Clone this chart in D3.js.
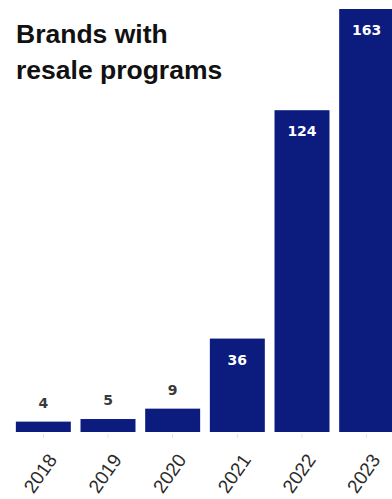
<!DOCTYPE html>
<html>
  <head>
    <script src="https://cdn.jsdelivr.net/npm/d3@7/dist/d3.min.js"></script>
    <style>
      body { margin: 0; background: #fff; }
    </style>
  </head>
  <body>
    <svg id="chart"></svg>
    <script>
      const years = ["2018", "2019", "2020", "2021", "2022", "2023"]
      const brands = [4, 5, 9, 36, 124, 163]
      const titleLines = ["Brands with", "resale programs"]

      const width = 392, height = 499
      const baseline = 432

      const svg = d3.select("#chart").attr("width", width).attr("height", height)

      var xScale = d3.scaleBand().domain(years).range([11, 399]).paddingInner(0.15).paddingOuter(0.075)
      var yScale = d3.scaleLinear().domain([0, 163]).range([baseline, 9])

      const data = years.map((y, i) => ({year: y, value: brands[i]}))

      svg.append("g").selectAll("rect")
        .data(data)
        .enter()
        .append("rect")
        .attr("fill", "#0c1c7e")
        .attr("x", d => xScale(d.year))
        .attr("width", xScale.bandwidth())
        .attr("y", d => yScale(d.value))
        .attr("height", d => baseline - yScale(d.value))

      // value labels: inside for tall bars, above for short ones
      svg.append("g").selectAll("text")
        .data(data)
        .enter()
        .append("text")
        .attr("x", d => xScale(d.year) + xScale.bandwidth() / 2)
        .attr("y", d => d.value > 20 ? yScale(d.value) + 26 : yScale(d.value) - 14)
        .attr("text-anchor", "middle")
        .attr("font-family", "DejaVu Sans, Verdana, sans-serif")
        .attr("font-weight", "bold")
        .attr("font-size", 14)
        .attr("fill", d => d.value > 20 ? "#ffffff" : "#3a3a3a")
        .text(d => d.value)

      var xAxis = d3.axisBottom(xScale).tickSizeInner(4).tickSizeOuter(0)
      var xAxisGroup = svg.append("g")
        .attr("transform", `translate(0, ${baseline + 2})`)
        .call(xAxis)
      xAxisGroup.select(".domain").remove()
      xAxisGroup.selectAll(".tick line").attr("stroke", "#e4e4e4")
      xAxisGroup.selectAll(".tick text")
        .attr("font-family", "Liberation Sans, Arial, sans-serif")
        .attr("font-size", 19)
        .attr("fill", "#2a2a2a")
        .attr("text-anchor", "end")
        .attr("y", 0).attr("dy", "0.35em")
        .attr("transform", "translate(9, 22) rotate(-55)")

      svg.append("text")
        .attr("x", 16)
        .attr("y", 43)
        .attr("font-family", "Liberation Sans, Arial, sans-serif")
        .attr("font-weight", "bold")
        .attr("font-size", 26.5)
        .attr("fill", "#111")
        .selectAll("tspan")
        .data(titleLines)
        .enter()
        .append("tspan")
        .attr("x", 16)
        .attr("dy", (d, i) => i === 0 ? 0 : 36)
        .text(d => d)
    </script>
  </body>
</html>
